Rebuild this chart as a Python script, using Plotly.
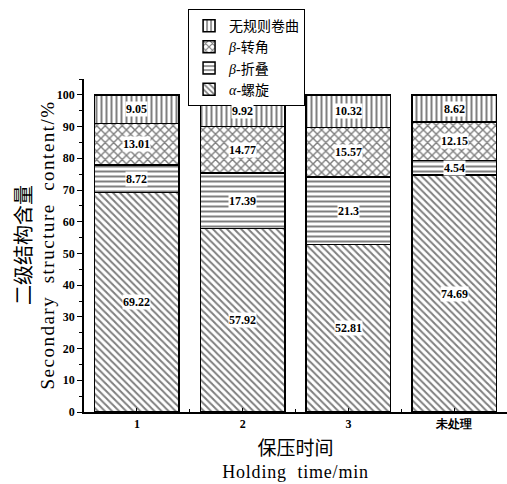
import plotly.graph_objects as go

categories = ["1", "2", "3", "未处理"]
alpha_helix = [69.22, 57.92, 52.81, 74.69]
beta_sheet = [8.72, 17.39, 21.3, 4.54]
beta_turn = [13.01, 14.77, 15.57, 12.15]
random_coil = [9.05, 9.92, 10.32, 8.62]

series = [
    ("<i>α</i>-螺旋", alpha_helix, "\\", 5, 0.4),
    ("<i>β</i>-折叠", beta_sheet, "-", 5, 0.4),
    ("<i>β</i>-转角", beta_turn, "x", 6, 0.42),
    ("无规则卷曲", random_coil, "|", 5, 0.4),
]

SERIF = "Liberation Serif, Times New Roman, serif"
CJK = "Liberation Serif, Noto Sans CJK SC, serif"
NB = "\u00a0"

xs = list(range(len(categories)))
fig = go.Figure()
for name, vals, shape, size, sol in series:
    fig.add_trace(go.Bar(
        x=xs, y=vals, name=name, width=0.8,
        marker=dict(color="white", line=dict(color="black", width=1.5),
                    pattern=dict(shape=shape, fgcolor="black", bgcolor="white",
                                 size=size, solidity=sol, fillmode="overlay")),
    ))

annotations = []
base = [0.0] * len(categories)
for name, vals, shape, size, sol in series:
    for i, v in enumerate(vals):
        annotations.append(dict(
            x=xs[i], y=base[i] + v / 2, xref="x", yref="y", text=f"<b>{v:g}</b>",
            showarrow=False, bgcolor="white", borderpad=0,
            font=dict(family=SERIF, size=12, color="black"),
        ))
        base[i] += v

# y-axis title (two lines, rotated)
annotations.append(dict(
    xref="paper", yref="paper", x=0, y=0.5, xanchor="center", yanchor="middle",
    xshift=-49, textangle=-90, showarrow=False,
    text=f"<span style='font-size:20px'>二级结构含量</span><br><span style='font-size:19px;letter-spacing:1.5px'>Secondary{NB}{NB}structure{NB}{NB}content/%</span>",
    font=dict(family=CJK, size=18, color="black"),
))

fig.update_layout(
    barmode="stack",
    width=507, height=484,
    margin=dict(l=84, r=0, t=79, b=72),
    paper_bgcolor="white", plot_bgcolor="white",
    font=dict(family=CJK, color="black"),
    annotations=annotations,
    legend=dict(x=0.246, y=1.21, xanchor="left", yanchor="top",
                bordercolor="black", borderwidth=1, bgcolor="white",
                font=dict(family=CJK, size=14), tracegroupgap=0,
                itemwidth=30),
    xaxis=dict(range=[-0.5, 3.5], tickmode="array", tickvals=xs, ticktext=categories,
               showline=True, linecolor="black", linewidth=1.5, mirror=False,
               ticks="inside", ticklen=4, tickcolor="black",
               minor=dict(tickmode="array", tickvals=[0.5, 1.5, 2.5], ticks="inside",
                          ticklen=3, tickcolor="black"),
               tickfont=dict(family=SERIF, size=12, weight="bold"),
               showgrid=False, zeroline=False,
               title=dict(text=f"<span style='font-size:19px'>保压时间</span><br><span style='letter-spacing:0.8px'>Holding{NB}{NB}time/min</span>",
                          font=dict(family=CJK, size=18), standoff=12)),
    yaxis=dict(range=[0, 105], tickmode="linear", tick0=0, dtick=10,
               showline=True, linecolor="black", linewidth=1.5,
               ticks="outside", ticklen=5, tickcolor="black",
               minor=dict(dtick=5, ticks="outside", ticklen=3, tickcolor="black"),
               tickfont=dict(family=SERIF, size=12, weight="bold"),
               showgrid=False, zeroline=False),
)

fig.write_html("out.html")
